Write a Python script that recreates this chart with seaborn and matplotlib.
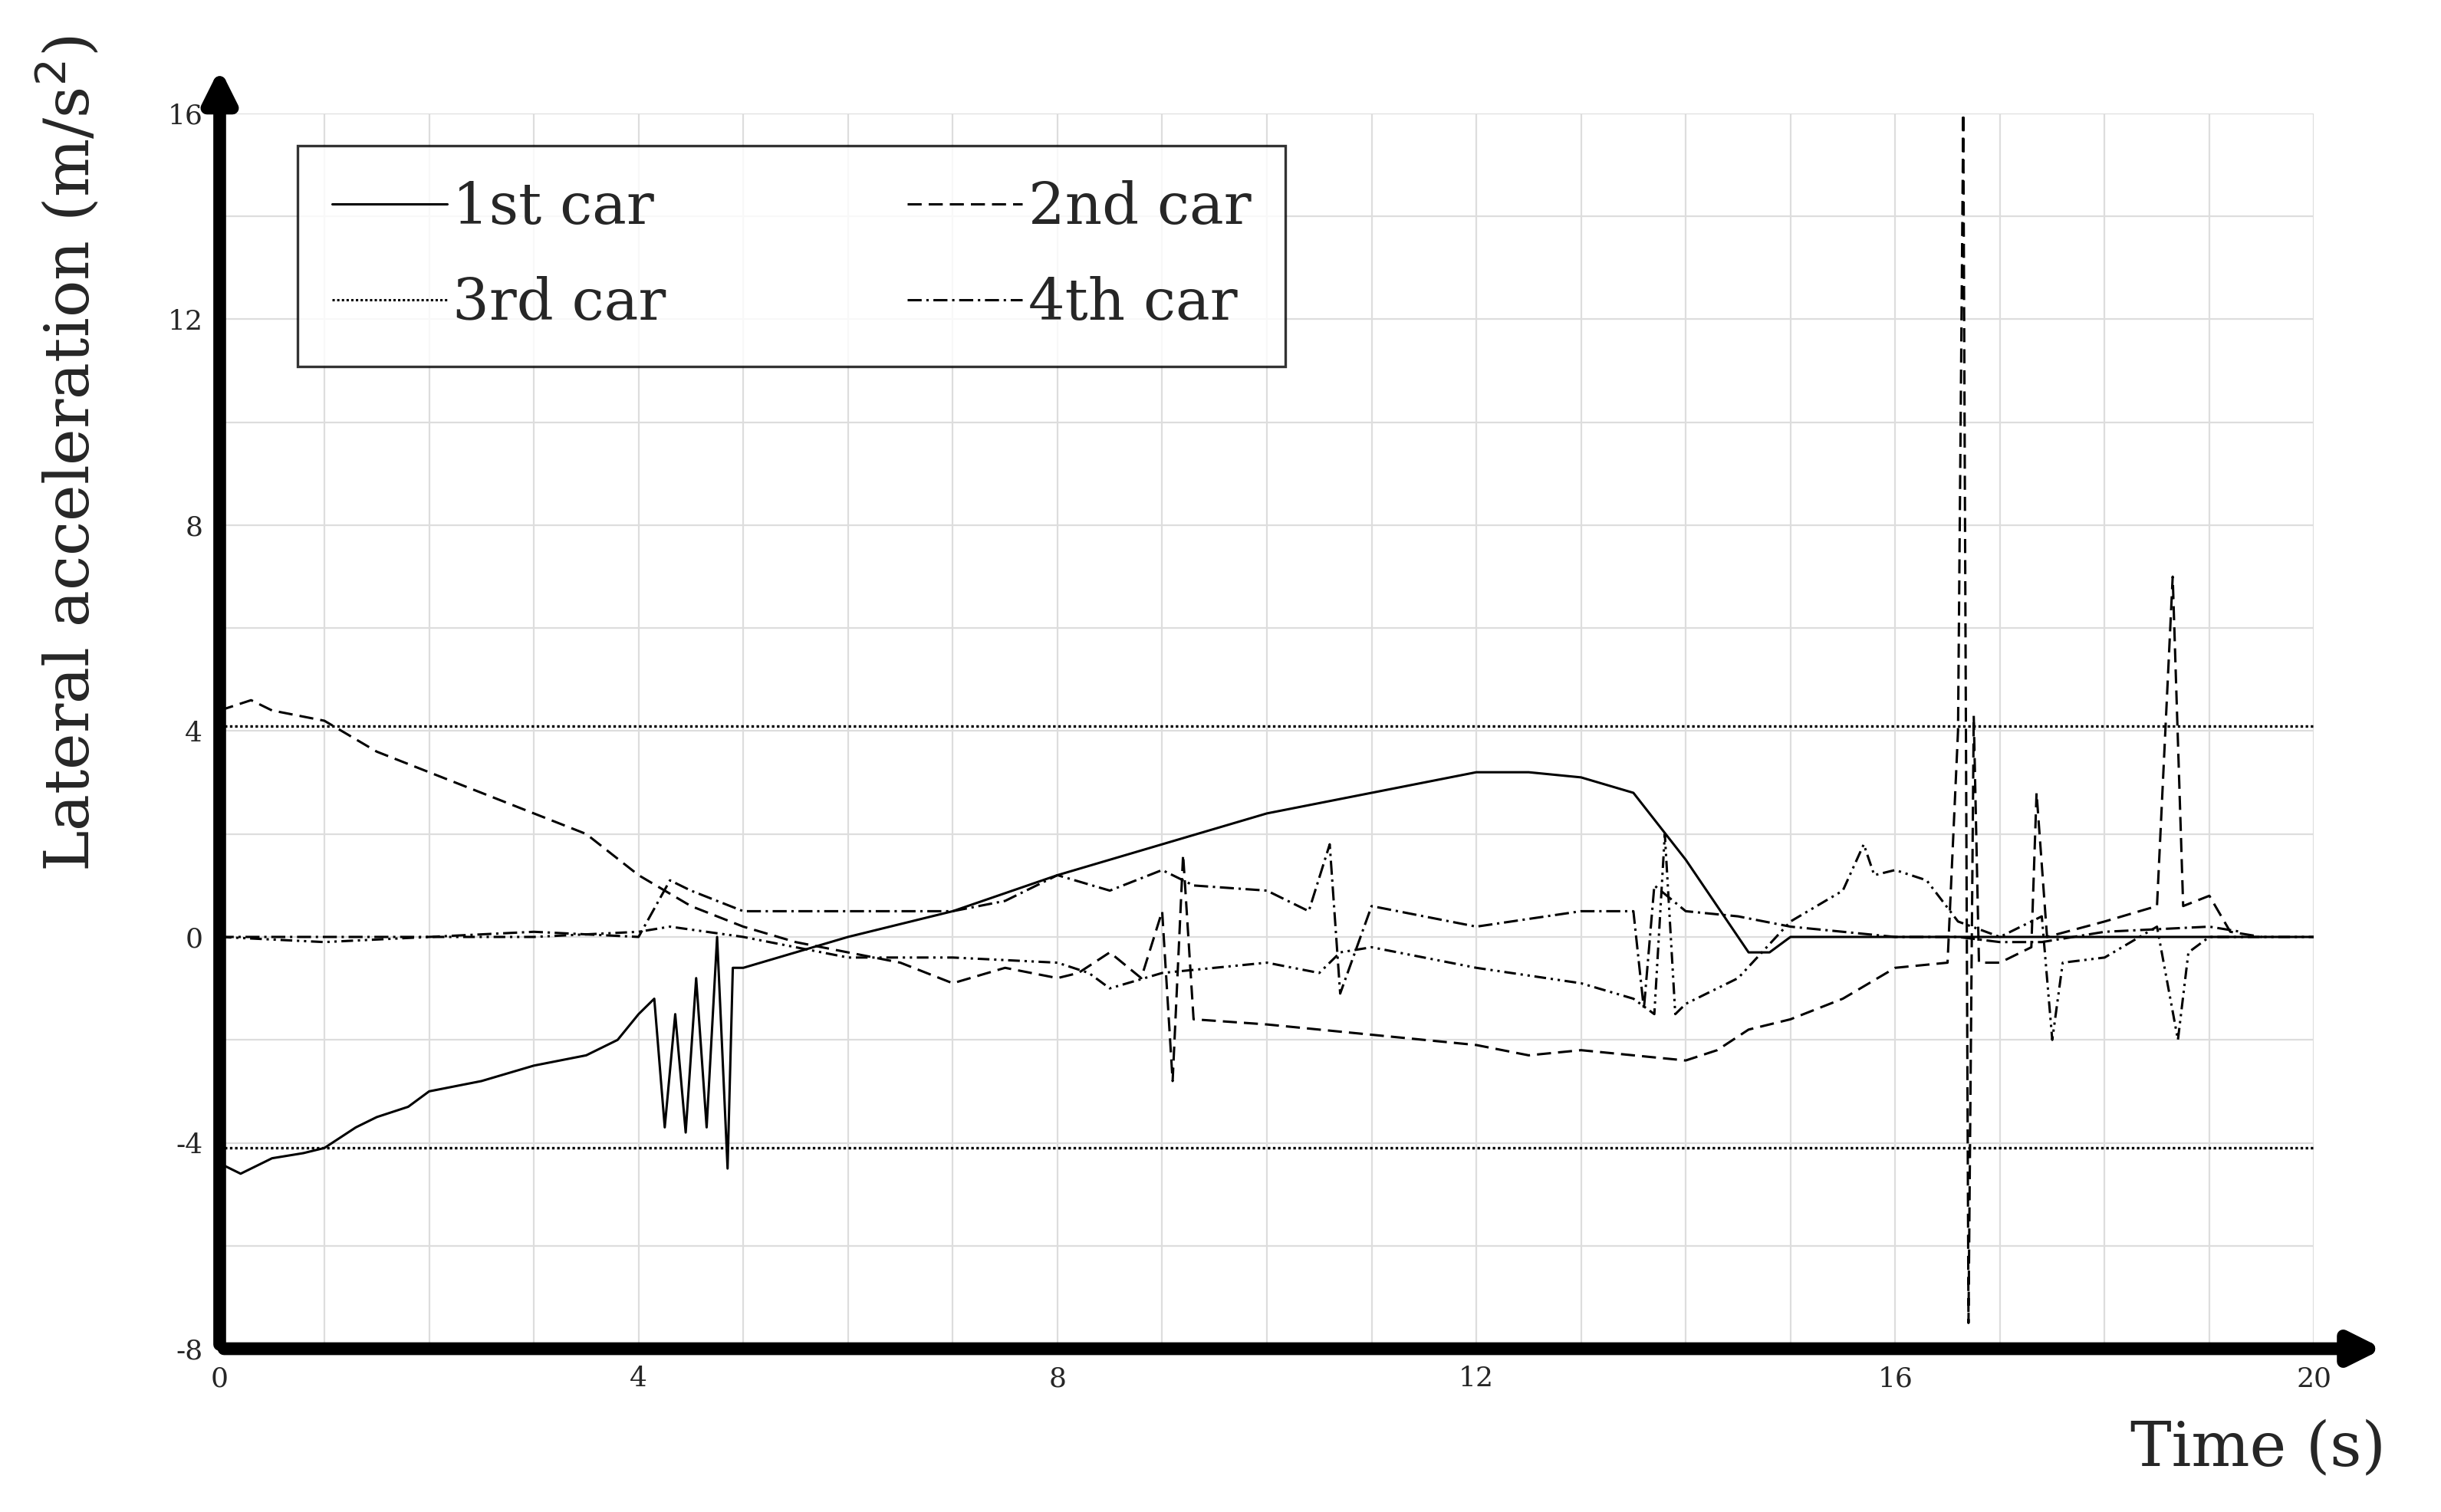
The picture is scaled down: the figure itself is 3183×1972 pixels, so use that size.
import matplotlib
matplotlib.use("Agg")
import matplotlib.pyplot as plt
import seaborn as sns
import pandas as pd

# 1st car (solid)
t1 = [0, 0.2, 0.5, 0.8, 1.0, 1.3, 1.5, 1.8, 2.0, 2.5, 3.0, 3.5, 3.8, 4.0, 4.15, 4.25, 4.35, 4.45, 4.55,
      4.65, 4.75, 4.85, 4.9, 5.0, 6.0, 7.0, 8.0, 9.0, 10.0, 11.0, 12.0, 12.5, 13.0, 13.5, 14.0, 14.5,
      14.6, 14.8, 15.0, 20.0]
a1 = [-4.4, -4.6, -4.3, -4.2, -4.1, -3.7, -3.5, -3.3, -3.0, -2.8, -2.5, -2.3, -2.0, -1.5, -1.2, -3.7,
      -1.5, -3.8, -0.8, -3.7, 0.0, -4.5, -0.6, -0.6, 0.0, 0.5, 1.2, 1.8, 2.4, 2.8, 3.2, 3.2, 3.1, 2.8,
      1.5, 0.0, -0.3, -0.3, 0.0, 0.0]

# 2nd car (dashed)
t2 = [0, 0.3, 0.5, 1.0, 1.5, 2.0, 3.0, 3.5, 4.0, 4.5, 5.0, 5.5, 6.0, 6.5, 7.0, 7.5, 8.0, 8.2, 8.5, 8.8,
      9.0, 9.1, 9.2, 9.3, 10.0, 11.0, 12.0, 12.5, 13.0, 13.5, 14.0, 14.3, 14.6, 15.0, 15.5, 16.0, 16.5,
      16.6, 16.65, 16.7, 16.75, 16.8, 17.0, 17.3, 17.35, 17.45, 18.0, 18.5, 18.65, 18.75, 19.0, 19.2, 19.5]
a2 = [4.4, 4.6, 4.4, 4.2, 3.6, 3.2, 2.4, 2.0, 1.2, 0.6, 0.2, -0.1, -0.3, -0.5, -0.9, -0.6, -0.8, -0.7,
      -0.3, -0.8, 0.5, -2.8, 1.6, -1.6, -1.7, -1.9, -2.1, -2.3, -2.2, -2.3, -2.4, -2.2, -1.8, -1.6, -1.2,
      -0.6, -0.5, 4.0, 16.0, -7.5, 4.3, -0.5, -0.5, -0.2, 2.8, 0.0, 0.3, 0.6, 7.0, 0.6, 0.8, 0.1, 0.0]

# 3rd car (dash-dot-dot)
t3 = [0, 1, 2, 3, 4, 4.3, 5, 6, 7, 8, 8.3, 8.5, 9, 10, 10.5, 10.7, 11, 12, 13, 13.5, 13.7, 13.8, 13.9,
      14, 14.5, 15, 15.5, 15.7, 15.8, 16, 16.3, 16.6, 17, 17.4, 17.5, 17.6, 18, 18.5, 18.7, 18.8, 19, 20]
a3 = [0.0, -0.1, 0.0, 0.0, 0.1, 0.2, 0.0, -0.4, -0.4, -0.5, -0.7, -1.0, -0.7, -0.5, -0.7, -0.3, -0.2,
      -0.6, -0.9, -1.2, -1.5, 2.0, -1.5, -1.3, -0.8, 0.3, 0.9, 1.8, 1.2, 1.3, 1.1, 0.3, 0.0, 0.4, -2.0,
      -0.5, -0.4, 0.2, -2.0, -0.3, 0.0, 0.0]

# 4th car (dash-dot)
t4 = [0, 1, 2, 3, 4, 4.3, 4.5, 5, 6, 7, 7.5, 8, 8.5, 9, 9.3, 10, 10.4, 10.6, 10.7, 11, 12, 13, 13.5,
      13.6, 13.7, 14, 14.5, 15, 16, 16.6, 17, 17.4, 18, 19, 19.3]
a4 = [0.0, 0.0, 0.0, 0.1, 0.0, 1.1, 0.9, 0.5, 0.5, 0.5, 0.7, 1.2, 0.9, 1.3, 1.0, 0.9, 0.5, 1.8, -1.1,
      0.6, 0.2, 0.5, 0.5, -1.4, 1.0, 0.5, 0.4, 0.2, 0.0, 0.0, -0.1, -0.1, 0.1, 0.2, 0.1]

threshold = 4.1

series = [("1st car", t1, a1, "-"), ("2nd car", t2, a2, (0, (6, 3))),
          ("3rd car", t3, a3, (0, (1, 1))), ("4th car", t4, a4, (0, (6, 2, 1, 2)))]

sns.set_style("whitegrid")
plt.rcParams["font.family"] = ["DejaVu Serif"]
plt.rcParams["axes.unicode_minus"] = False

fig = plt.figure(figsize=(15.915, 9.86), dpi=200)
ax = fig.add_axes([0.09, 0.108, 0.858, 0.817])

for name, t, a, ls in series:
    df = pd.DataFrame({"t": t, "a": a})
    if name == "3rd car":
        sns.lineplot(data=df, x="t", y="a", ax=ax, color="black", lw=1.1,
                     linestyle=(0, (5, 2, 1, 2, 1, 2)), label=None)
        ax.plot([], [], color="black", lw=1.1, linestyle=ls, label=name)
    else:
        sns.lineplot(data=df, x="t", y="a", ax=ax, color="black", lw=1.1, linestyle=ls, label=name)

ax.axhline(threshold, color="black", lw=1.2, linestyle=(0, (1, 1)))
ax.axhline(-threshold, color="black", lw=1.2, linestyle=(0, (1, 1)))

ax.set_xlim(0, 20)
ax.set_ylim(-8, 16)
ax.set_xticks(range(0, 21, 4))
ax.set_yticks(range(-8, 17, 4))
ax.set_xticks(range(0, 21, 1), minor=True)
ax.set_yticks(range(-8, 17, 2), minor=True)
ax.grid(which="both", color="#dddddd", lw=0.8)
ax.tick_params(labelsize=13, length=0, pad=8)
ax.set_xlabel("")
ax.set_ylabel("")
for s in ax.spines.values():
    s.set_visible(False)

ax.annotate("", xy=(1.035, 0), xytext=(0, 0), xycoords="axes fraction",
            arrowprops=dict(arrowstyle="-|>,head_length=1.2,head_width=0.6", color="black", lw=6))
ax.annotate("", xy=(0, 1.04), xytext=(0, 0), xycoords="axes fraction",
            arrowprops=dict(arrowstyle="-|>,head_length=1.2,head_width=0.6", color="black", lw=6))

fig.text(0.028, 0.70, "Lateral acceleration (m/s$^2$)", rotation=90, fontsize=29,
         ha="center", va="center")
fig.text(0.925, 0.042, "Time (s)", fontsize=29, ha="center", va="center")

handles, labels = ax.get_legend_handles_labels()
order = [labels.index(n) for n in ["1st car", "3rd car", "2nd car", "4th car"]]
leg = ax.legend([handles[i] for i in order], [labels[i] for i in order],
                loc="upper left", bbox_to_anchor=(0.037, 0.974), ncol=2, fontsize=27,
                frameon=True, fancybox=False, edgecolor="black", handlelength=2.0,
                columnspacing=4.2, borderpad=0.6, labelspacing=0.7, handletextpad=0.1,
                borderaxespad=0)
leg.get_frame().set_linewidth(1.2)

fig.savefig("out.png", dpi=200, facecolor="white")
